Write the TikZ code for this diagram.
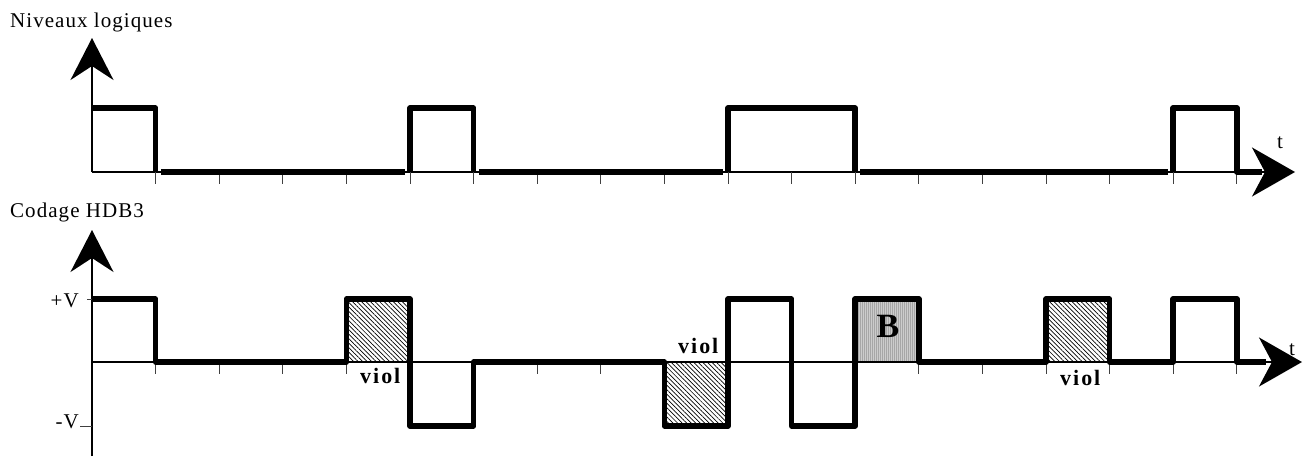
\documentclass[tikz,border=0pt]{standalone}
\usepackage{fontspec}
\setmainfont{Liberation Serif}
\usetikzlibrary{arrows.meta,patterns.meta}
\begin{document}
\begin{tikzpicture}[x=1pt,y=-1pt,
  axisline/.style={line width=2pt},
  sig/.style={line width=5.5pt,line join=round},
  tickmark/.style={line width=1pt,black!75},
  lbl/.style={inner sep=0pt,font=\fontsize{21}{25}\selectfont\addfontfeature{LetterSpace=5}},
  viollbl/.style={inner sep=0pt,font=\bfseries\fontsize{22}{26}\selectfont\addfontfeature{LetterSpace=9}},
  hatchbox/.style={pattern={Lines[angle=-45,distance=3.2pt,line width=0.7pt]}},
  graybox/.style={fill=black!20},
  yhead/.style={-{Stealth[length=42pt,width=43pt,inset=14pt]}},
  xhead/.style={-{Stealth[length=43pt,width=49pt,inset=13pt]}}
]
\useasboundingbox (0,0) rectangle (1309,456);

% shaded boxes (bottom chart)
\path[hatchbox] (346.4,299) rectangle (410,362);
\path[hatchbox] (664.4,362) rectangle (728,426);
\path[hatchbox] (1046,299) rectangle (1109.6,362);
\path[graybox] (855.2,299) rectangle (918.8,362);
\path[pattern={Lines[angle=90,distance=2pt,line width=0.6pt]},pattern color=black!35] (855.2,299) rectangle (918.8,362);

% axes top
\draw[axisline,yhead] (92,172) -- (92,38);
\draw[axisline,xhead] (92,172) -- (1295,172);
\foreach \k in {1,...,18} \draw[tickmark] ({92+63.6*\k},172) -- ++(0,12);

% axes bottom
\draw[axisline,yhead] (92,456) -- (92,230);
\draw[axisline,xhead] (92,362) -- (1302,362);
\foreach \k in {1,...,18} \draw[tickmark] ({92+63.6*\k},362) -- ++(0,12);
\draw[tickmark] (87,299) -- (92,299);
\draw[tickmark] (80,426) -- (92,426);

% top signal
\draw[sig] (92,108) -- (155.6,108) -- (155.6,172);
\draw[sig] (161,172) -- (405,172);
\draw[sig] (410,172) -- (410,108) -- (473.6,108) -- (473.6,172);
\draw[sig] (479,172) -- (723,172);
\draw[sig] (728,172) -- (728,108) -- (855.2,108) -- (855.2,172);
\draw[sig] (860,172) -- (1168,172);
\draw[sig] (1173.2,172) -- (1173.2,108) -- (1236.8,108) -- (1236.8,172) -- (1262,172);

% bottom signal (HDB3)
\draw[sig] (92,299) -- (155.6,299) -- (155.6,362) -- (346.4,362) -- (346.4,299)
  -- (410,299) -- (410,426) -- (473.6,426) -- (473.6,362) -- (664.4,362)
  -- (664.4,426) -- (728,426) -- (728,299) -- (791.6,299) -- (791.6,426)
  -- (855.2,426) -- (855.2,299) -- (918.8,299) -- (918.8,362) -- (1046,362)
  -- (1046,299) -- (1109.6,299) -- (1109.6,362) -- (1173.2,362) -- (1173.2,299)
  -- (1236.8,299) -- (1236.8,362) -- (1266,362);

% labels
\node[lbl,anchor=base west] (title1) at (10,27) {Niveaux logiques};
\node[lbl,anchor=base west] (title2) at (10,217) {Codage HDB3};
\node[lbl,anchor=base east] (pv) at (79,307) {+V};
\node[lbl,anchor=base east] (mv) at (79,428) {-V};
\node[lbl,anchor=base west] (t1) at (1277,148) {t};
\node[lbl,anchor=base west] (t2) at (1289,355) {t};
\node[viollbl,anchor=base west] (v1) at (360,383) {viol};
\node[viollbl,anchor=base west] (v2) at (678,353) {viol};
\node[viollbl,anchor=base west] (v3) at (1060,385) {viol};
\node[inner sep=0pt,font=\bfseries\fontsize{34}{40}\selectfont] (bb) at (888,326) {B};
\end{tikzpicture}
\end{document}
